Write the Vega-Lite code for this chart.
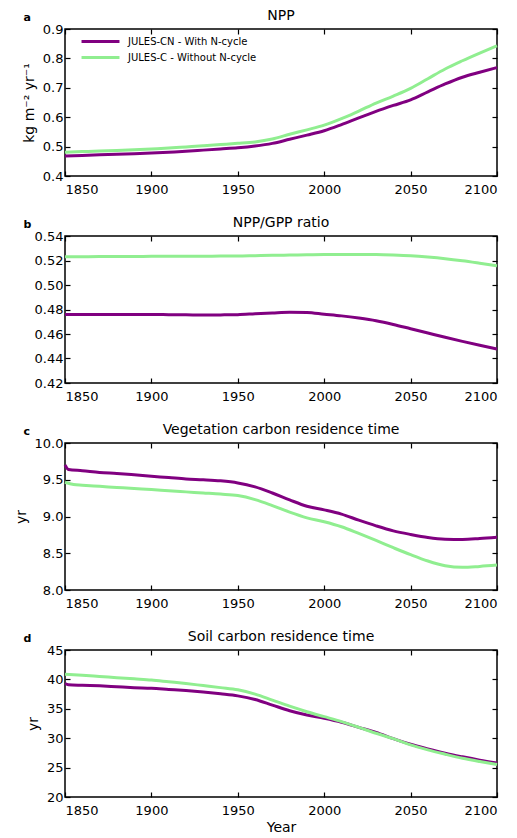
{
  "$schema": "https://vega.github.io/schema/vega-lite/v6.json",
  "padding": {"left": 13, "top": 8, "right": 5, "bottom": 0},
  "spacing": 18,
  "datasets": {
    "npp": [
      {"year":1850,"model":"JULES-CN - With N-cycle","value":0.468},{"year":1860,"model":"JULES-CN - With N-cycle","value":0.470},{"year":1870,"model":"JULES-CN - With N-cycle","value":0.472},{"year":1880,"model":"JULES-CN - With N-cycle","value":0.474},{"year":1890,"model":"JULES-CN - With N-cycle","value":0.476},{"year":1900,"model":"JULES-CN - With N-cycle","value":0.478},{"year":1910,"model":"JULES-CN - With N-cycle","value":0.481},{"year":1920,"model":"JULES-CN - With N-cycle","value":0.484},{"year":1930,"model":"JULES-CN - With N-cycle","value":0.488},{"year":1940,"model":"JULES-CN - With N-cycle","value":0.492},{"year":1950,"model":"JULES-CN - With N-cycle","value":0.496},{"year":1960,"model":"JULES-CN - With N-cycle","value":0.502},{"year":1970,"model":"JULES-CN - With N-cycle","value":0.511},{"year":1980,"model":"JULES-CN - With N-cycle","value":0.525},{"year":1990,"model":"JULES-CN - With N-cycle","value":0.539},{"year":2000,"model":"JULES-CN - With N-cycle","value":0.554},{"year":2010,"model":"JULES-CN - With N-cycle","value":0.575},{"year":2020,"model":"JULES-CN - With N-cycle","value":0.598},{"year":2030,"model":"JULES-CN - With N-cycle","value":0.620},{"year":2040,"model":"JULES-CN - With N-cycle","value":0.640},{"year":2050,"model":"JULES-CN - With N-cycle","value":0.659},{"year":2060,"model":"JULES-CN - With N-cycle","value":0.686},{"year":2070,"model":"JULES-CN - With N-cycle","value":0.713},{"year":2080,"model":"JULES-CN - With N-cycle","value":0.736},{"year":2090,"model":"JULES-CN - With N-cycle","value":0.753},{"year":2100,"model":"JULES-CN - With N-cycle","value":0.769},
      {"year":1850,"model":"JULES-C - Without N-cycle","value":0.481},{"year":1860,"model":"JULES-C - Without N-cycle","value":0.483},{"year":1870,"model":"JULES-C - Without N-cycle","value":0.485},{"year":1880,"model":"JULES-C - Without N-cycle","value":0.487},{"year":1890,"model":"JULES-C - Without N-cycle","value":0.489},{"year":1900,"model":"JULES-C - Without N-cycle","value":0.492},{"year":1910,"model":"JULES-C - Without N-cycle","value":0.495},{"year":1920,"model":"JULES-C - Without N-cycle","value":0.499},{"year":1930,"model":"JULES-C - Without N-cycle","value":0.503},{"year":1940,"model":"JULES-C - Without N-cycle","value":0.507},{"year":1950,"model":"JULES-C - Without N-cycle","value":0.511},{"year":1960,"model":"JULES-C - Without N-cycle","value":0.516},{"year":1970,"model":"JULES-C - Without N-cycle","value":0.526},{"year":1980,"model":"JULES-C - Without N-cycle","value":0.542},{"year":1990,"model":"JULES-C - Without N-cycle","value":0.557},{"year":2000,"model":"JULES-C - Without N-cycle","value":0.573},{"year":2010,"model":"JULES-C - Without N-cycle","value":0.595},{"year":2020,"model":"JULES-C - Without N-cycle","value":0.621},{"year":2030,"model":"JULES-C - Without N-cycle","value":0.648},{"year":2040,"model":"JULES-C - Without N-cycle","value":0.672},{"year":2050,"model":"JULES-C - Without N-cycle","value":0.698},{"year":2060,"model":"JULES-C - Without N-cycle","value":0.731},{"year":2070,"model":"JULES-C - Without N-cycle","value":0.764},{"year":2080,"model":"JULES-C - Without N-cycle","value":0.792},{"year":2090,"model":"JULES-C - Without N-cycle","value":0.818},{"year":2100,"model":"JULES-C - Without N-cycle","value":0.843}
    ],
    "ratio": [
      {"year":1850,"model":"JULES-CN - With N-cycle","value":0.4760},{"year":1860,"model":"JULES-CN - With N-cycle","value":0.4760},{"year":1870,"model":"JULES-CN - With N-cycle","value":0.4760},{"year":1880,"model":"JULES-CN - With N-cycle","value":0.4760},{"year":1890,"model":"JULES-CN - With N-cycle","value":0.4759},{"year":1900,"model":"JULES-CN - With N-cycle","value":0.4759},{"year":1910,"model":"JULES-CN - With N-cycle","value":0.4758},{"year":1920,"model":"JULES-CN - With N-cycle","value":0.4757},{"year":1930,"model":"JULES-CN - With N-cycle","value":0.4755},{"year":1940,"model":"JULES-CN - With N-cycle","value":0.4756},{"year":1950,"model":"JULES-CN - With N-cycle","value":0.4758},{"year":1960,"model":"JULES-CN - With N-cycle","value":0.4765},{"year":1970,"model":"JULES-CN - With N-cycle","value":0.4772},{"year":1980,"model":"JULES-CN - With N-cycle","value":0.4778},{"year":1990,"model":"JULES-CN - With N-cycle","value":0.4776},{"year":2000,"model":"JULES-CN - With N-cycle","value":0.4762},{"year":2010,"model":"JULES-CN - With N-cycle","value":0.4748},{"year":2020,"model":"JULES-CN - With N-cycle","value":0.4730},{"year":2030,"model":"JULES-CN - With N-cycle","value":0.4708},{"year":2040,"model":"JULES-CN - With N-cycle","value":0.4678},{"year":2050,"model":"JULES-CN - With N-cycle","value":0.4643},{"year":2060,"model":"JULES-CN - With N-cycle","value":0.4608},{"year":2070,"model":"JULES-CN - With N-cycle","value":0.4573},{"year":2080,"model":"JULES-CN - With N-cycle","value":0.4540},{"year":2090,"model":"JULES-CN - With N-cycle","value":0.4508},{"year":2100,"model":"JULES-CN - With N-cycle","value":0.4477},
      {"year":1850,"model":"JULES-C - Without N-cycle","value":0.5230},{"year":1860,"model":"JULES-C - Without N-cycle","value":0.5231},{"year":1870,"model":"JULES-C - Without N-cycle","value":0.5232},{"year":1880,"model":"JULES-C - Without N-cycle","value":0.5233},{"year":1890,"model":"JULES-C - Without N-cycle","value":0.5233},{"year":1900,"model":"JULES-C - Without N-cycle","value":0.5234},{"year":1910,"model":"JULES-C - Without N-cycle","value":0.5234},{"year":1920,"model":"JULES-C - Without N-cycle","value":0.5235},{"year":1930,"model":"JULES-C - Without N-cycle","value":0.5235},{"year":1940,"model":"JULES-C - Without N-cycle","value":0.5236},{"year":1950,"model":"JULES-C - Without N-cycle","value":0.5236},{"year":1960,"model":"JULES-C - Without N-cycle","value":0.5239},{"year":1970,"model":"JULES-C - Without N-cycle","value":0.5242},{"year":1980,"model":"JULES-C - Without N-cycle","value":0.5244},{"year":1990,"model":"JULES-C - Without N-cycle","value":0.5246},{"year":2000,"model":"JULES-C - Without N-cycle","value":0.5248},{"year":2010,"model":"JULES-C - Without N-cycle","value":0.5249},{"year":2020,"model":"JULES-C - Without N-cycle","value":0.5249},{"year":2030,"model":"JULES-C - Without N-cycle","value":0.5248},{"year":2040,"model":"JULES-C - Without N-cycle","value":0.5244},{"year":2050,"model":"JULES-C - Without N-cycle","value":0.5238},{"year":2060,"model":"JULES-C - Without N-cycle","value":0.5228},{"year":2070,"model":"JULES-C - Without N-cycle","value":0.5215},{"year":2080,"model":"JULES-C - Without N-cycle","value":0.5198},{"year":2090,"model":"JULES-C - Without N-cycle","value":0.5178},{"year":2100,"model":"JULES-C - Without N-cycle","value":0.5157}
    ],
    "veg": [
      {"year":1850,"model":"JULES-CN - With N-cycle","value":9.70},{"year":1852,"model":"JULES-CN - With N-cycle","value":9.64},{"year":1860,"model":"JULES-CN - With N-cycle","value":9.624},{"year":1870,"model":"JULES-CN - With N-cycle","value":9.60},{"year":1880,"model":"JULES-CN - With N-cycle","value":9.585},{"year":1890,"model":"JULES-CN - With N-cycle","value":9.567},{"year":1900,"model":"JULES-CN - With N-cycle","value":9.548},{"year":1910,"model":"JULES-CN - With N-cycle","value":9.53},{"year":1920,"model":"JULES-CN - With N-cycle","value":9.511},{"year":1930,"model":"JULES-CN - With N-cycle","value":9.50},{"year":1940,"model":"JULES-CN - With N-cycle","value":9.485},{"year":1950,"model":"JULES-CN - With N-cycle","value":9.457},{"year":1960,"model":"JULES-CN - With N-cycle","value":9.403},{"year":1970,"model":"JULES-CN - With N-cycle","value":9.32},{"year":1980,"model":"JULES-CN - With N-cycle","value":9.226},{"year":1990,"model":"JULES-CN - With N-cycle","value":9.14},{"year":2000,"model":"JULES-CN - With N-cycle","value":9.09},{"year":2010,"model":"JULES-CN - With N-cycle","value":9.032},{"year":2020,"model":"JULES-CN - With N-cycle","value":8.95},{"year":2030,"model":"JULES-CN - With N-cycle","value":8.873},{"year":2040,"model":"JULES-CN - With N-cycle","value":8.805},{"year":2050,"model":"JULES-CN - With N-cycle","value":8.756},{"year":2060,"model":"JULES-CN - With N-cycle","value":8.715},{"year":2070,"model":"JULES-CN - With N-cycle","value":8.692},{"year":2080,"model":"JULES-CN - With N-cycle","value":8.688},{"year":2090,"model":"JULES-CN - With N-cycle","value":8.701},{"year":2100,"model":"JULES-CN - With N-cycle","value":8.719},
      {"year":1850,"model":"JULES-C - Without N-cycle","value":9.466},{"year":1855,"model":"JULES-C - Without N-cycle","value":9.434},{"year":1860,"model":"JULES-C - Without N-cycle","value":9.425},{"year":1870,"model":"JULES-C - Without N-cycle","value":9.41},{"year":1880,"model":"JULES-C - Without N-cycle","value":9.395},{"year":1890,"model":"JULES-C - Without N-cycle","value":9.38},{"year":1900,"model":"JULES-C - Without N-cycle","value":9.366},{"year":1910,"model":"JULES-C - Without N-cycle","value":9.35},{"year":1920,"model":"JULES-C - Without N-cycle","value":9.335},{"year":1930,"model":"JULES-C - Without N-cycle","value":9.32},{"year":1940,"model":"JULES-C - Without N-cycle","value":9.305},{"year":1950,"model":"JULES-C - Without N-cycle","value":9.285},{"year":1960,"model":"JULES-C - Without N-cycle","value":9.23},{"year":1970,"model":"JULES-C - Without N-cycle","value":9.149},{"year":1980,"model":"JULES-C - Without N-cycle","value":9.059},{"year":1990,"model":"JULES-C - Without N-cycle","value":8.982},{"year":2000,"model":"JULES-C - Without N-cycle","value":8.928},{"year":2010,"model":"JULES-C - Without N-cycle","value":8.86},{"year":2020,"model":"JULES-C - Without N-cycle","value":8.769},{"year":2030,"model":"JULES-C - Without N-cycle","value":8.674},{"year":2040,"model":"JULES-C - Without N-cycle","value":8.575},{"year":2050,"model":"JULES-C - Without N-cycle","value":8.48},{"year":2060,"model":"JULES-C - Without N-cycle","value":8.394},{"year":2070,"model":"JULES-C - Without N-cycle","value":8.33},{"year":2080,"model":"JULES-C - Without N-cycle","value":8.308},{"year":2090,"model":"JULES-C - Without N-cycle","value":8.321},{"year":2100,"model":"JULES-C - Without N-cycle","value":8.339}
    ],
    "soil": [
      {"year":1850,"model":"JULES-CN - With N-cycle","value":39.3},{"year":1852,"model":"JULES-CN - With N-cycle","value":39.1},{"year":1860,"model":"JULES-CN - With N-cycle","value":39.0},{"year":1870,"model":"JULES-CN - With N-cycle","value":38.9},{"year":1880,"model":"JULES-CN - With N-cycle","value":38.75},{"year":1890,"model":"JULES-CN - With N-cycle","value":38.6},{"year":1900,"model":"JULES-CN - With N-cycle","value":38.5},{"year":1910,"model":"JULES-CN - With N-cycle","value":38.3},{"year":1920,"model":"JULES-CN - With N-cycle","value":38.1},{"year":1930,"model":"JULES-CN - With N-cycle","value":37.85},{"year":1940,"model":"JULES-CN - With N-cycle","value":37.55},{"year":1950,"model":"JULES-CN - With N-cycle","value":37.2},{"year":1960,"model":"JULES-CN - With N-cycle","value":36.59},{"year":1970,"model":"JULES-CN - With N-cycle","value":35.63},{"year":1980,"model":"JULES-CN - With N-cycle","value":34.67},{"year":1990,"model":"JULES-CN - With N-cycle","value":33.94},{"year":2000,"model":"JULES-CN - With N-cycle","value":33.37},{"year":2010,"model":"JULES-CN - With N-cycle","value":32.70},{"year":2020,"model":"JULES-CN - With N-cycle","value":31.85},{"year":2030,"model":"JULES-CN - With N-cycle","value":31.0},{"year":2040,"model":"JULES-CN - With N-cycle","value":29.93},{"year":2050,"model":"JULES-CN - With N-cycle","value":28.97},{"year":2060,"model":"JULES-CN - With N-cycle","value":28.18},{"year":2070,"model":"JULES-CN - With N-cycle","value":27.45},{"year":2080,"model":"JULES-CN - With N-cycle","value":26.83},{"year":2090,"model":"JULES-CN - With N-cycle","value":26.26},{"year":2100,"model":"JULES-CN - With N-cycle","value":25.76},
      {"year":1850,"model":"JULES-C - Without N-cycle","value":40.88},{"year":1860,"model":"JULES-C - Without N-cycle","value":40.7},{"year":1870,"model":"JULES-C - Without N-cycle","value":40.5},{"year":1880,"model":"JULES-C - Without N-cycle","value":40.3},{"year":1890,"model":"JULES-C - Without N-cycle","value":40.1},{"year":1900,"model":"JULES-C - Without N-cycle","value":39.9},{"year":1910,"model":"JULES-C - Without N-cycle","value":39.6},{"year":1920,"model":"JULES-C - Without N-cycle","value":39.3},{"year":1930,"model":"JULES-C - Without N-cycle","value":38.95},{"year":1940,"model":"JULES-C - Without N-cycle","value":38.6},{"year":1950,"model":"JULES-C - Without N-cycle","value":38.23},{"year":1960,"model":"JULES-C - Without N-cycle","value":37.49},{"year":1970,"model":"JULES-C - Without N-cycle","value":36.48},{"year":1980,"model":"JULES-C - Without N-cycle","value":35.46},{"year":1990,"model":"JULES-C - Without N-cycle","value":34.5},{"year":2000,"model":"JULES-C - Without N-cycle","value":33.66},{"year":2010,"model":"JULES-C - Without N-cycle","value":32.81},{"year":2020,"model":"JULES-C - Without N-cycle","value":31.85},{"year":2030,"model":"JULES-C - Without N-cycle","value":30.84},{"year":2040,"model":"JULES-C - Without N-cycle","value":29.93},{"year":2050,"model":"JULES-C - Without N-cycle","value":28.86},{"year":2060,"model":"JULES-C - Without N-cycle","value":28.01},{"year":2070,"model":"JULES-C - Without N-cycle","value":27.28},{"year":2080,"model":"JULES-C - Without N-cycle","value":26.6},{"year":2090,"model":"JULES-C - Without N-cycle","value":26.04},{"year":2100,"model":"JULES-C - Without N-cycle","value":25.53}
    ]
  },
  "resolve": {"scale": {"color": "independent"}},
  "vconcat": [
    {
      "width": 432, "height": 147,
      "data": {"name": "npp"},
      "title": {"text": "NPP"},
      "layer": [
        {
          "mark": {"type": "line", "strokeWidth": 3, "interpolate": "monotone"},
          "encoding": {
            "x": {"field": "year", "type": "quantitative", "scale": {"domain": [1850, 2100], "nice": false},
                  "axis": {"orient": "bottom", "values": [1850,1900,1950,2000,2050,2100], "format": "d", "title": null}},
            "y": {"field": "value", "type": "quantitative", "scale": {"domain": [0.4, 0.9], "nice": false, "zero": false},
                  "axis": {"orient": "left", "values": [0.4,0.5,0.6,0.7,0.8,0.9], "format": ".1f", "title": "kg m⁻² yr⁻¹"}},
            "color": {"field": "model", "type": "nominal",
                      "scale": {"domain": ["JULES-CN - With N-cycle", "JULES-C - Without N-cycle"], "range": ["#800080", "#90ee90"]},
                      "legend": {"orient": "none", "legendX": 29, "legendY": 6, "title": null, "symbolType": "M-4,0H4", "symbolStrokeWidth": 3, "symbolSize": 90, "labelFontSize": 10, "labelColor": "black", "padding": 0, "rowPadding": 3, "labelOffset": 21}}
          }
        },
        {
          "mark": {"type": "line", "opacity": 0},
          "encoding": {
            "x": {"field": "year", "type": "quantitative", "axis": {"orient": "top", "labels": false, "values": [1850,1900,1950,2000,2050,2100], "title": "a", "titleX": -42, "titleY": -9, "titleAlign": "left", "titleAngle": 0, "titleBaseline": "alphabetic", "titleFontWeight": "bold", "titleFontSize": 11}},
            "y": {"field": "value", "type": "quantitative", "axis": {"orient": "right", "labels": false, "values": [0.4,0.5,0.6,0.7,0.8,0.9], "title": null}}
          }
        }
      ],
      "resolve": {"axis": {"x": "independent", "y": "independent"}}
    },
    {
      "width": 432, "height": 147,
      "data": {"name": "ratio"},
      "title": {"text": "NPP/GPP ratio"},
      "layer": [
        {
          "mark": {"type": "line", "strokeWidth": 3, "interpolate": "monotone"},
          "encoding": {
            "x": {"field": "year", "type": "quantitative", "scale": {"domain": [1850, 2100], "nice": false},
                  "axis": {"orient": "bottom", "values": [1850,1900,1950,2000,2050,2100], "format": "d", "title": null}},
            "y": {"field": "value", "type": "quantitative", "scale": {"domain": [0.42, 0.54], "nice": false, "zero": false},
                  "axis": {"orient": "left", "values": [0.42,0.44,0.46,0.48,0.50,0.52,0.54], "format": ".2f", "title": null}},
            "color": {"field": "model", "type": "nominal",
                      "scale": {"domain": ["JULES-CN - With N-cycle", "JULES-C - Without N-cycle"], "range": ["#800080", "#90ee90"]},
                      "legend": null}
          }
        },
        {
          "mark": {"type": "line", "opacity": 0},
          "encoding": {
            "x": {"field": "year", "type": "quantitative", "axis": {"orient": "top", "labels": false, "values": [1850,1900,1950,2000,2050,2100], "title": "b", "titleX": -42, "titleY": -9, "titleAlign": "left", "titleAngle": 0, "titleBaseline": "alphabetic", "titleFontWeight": "bold", "titleFontSize": 11}},
            "y": {"field": "value", "type": "quantitative", "axis": {"orient": "right", "labels": false, "values": [0.42,0.44,0.46,0.48,0.50,0.52,0.54], "title": null}}
          }
        }
      ],
      "resolve": {"axis": {"x": "independent", "y": "independent"}}
    },
    {
      "width": 432, "height": 147,
      "data": {"name": "veg"},
      "title": {"text": "Vegetation carbon residence time"},
      "layer": [
        {
          "mark": {"type": "line", "strokeWidth": 3, "interpolate": "monotone"},
          "encoding": {
            "x": {"field": "year", "type": "quantitative", "scale": {"domain": [1850, 2100], "nice": false},
                  "axis": {"orient": "bottom", "values": [1850,1900,1950,2000,2050,2100], "format": "d", "title": null}},
            "y": {"field": "value", "type": "quantitative", "scale": {"domain": [8.0, 10.0], "nice": false, "zero": false},
                  "axis": {"orient": "left", "values": [8.0,8.5,9.0,9.5,10.0], "format": ".1f", "title": "yr"}},
            "color": {"field": "model", "type": "nominal",
                      "scale": {"domain": ["JULES-CN - With N-cycle", "JULES-C - Without N-cycle"], "range": ["#800080", "#90ee90"]},
                      "legend": null}
          }
        },
        {
          "mark": {"type": "line", "opacity": 0},
          "encoding": {
            "x": {"field": "year", "type": "quantitative", "axis": {"orient": "top", "labels": false, "values": [1850,1900,1950,2000,2050,2100], "title": "c", "titleX": -42, "titleY": -9, "titleAlign": "left", "titleAngle": 0, "titleBaseline": "alphabetic", "titleFontWeight": "bold", "titleFontSize": 11}},
            "y": {"field": "value", "type": "quantitative", "axis": {"orient": "right", "labels": false, "values": [8.0,8.5,9.0,9.5,10.0], "title": null}}
          }
        }
      ],
      "resolve": {"axis": {"x": "independent", "y": "independent"}}
    },
    {
      "width": 432, "height": 147,
      "data": {"name": "soil"},
      "title": {"text": "Soil carbon residence time"},
      "layer": [
        {
          "mark": {"type": "line", "strokeWidth": 3, "interpolate": "monotone"},
          "encoding": {
            "x": {"field": "year", "type": "quantitative", "scale": {"domain": [1850, 2100], "nice": false},
                  "axis": {"orient": "bottom", "values": [1850,1900,1950,2000,2050,2100], "format": "d", "title": "Year", "titlePadding": 3}},
            "y": {"field": "value", "type": "quantitative", "scale": {"domain": [20, 45], "nice": false, "zero": false},
                  "axis": {"orient": "left", "values": [20,25,30,35,40,45], "format": "d", "title": "yr"}},
            "color": {"field": "model", "type": "nominal",
                      "scale": {"domain": ["JULES-CN - With N-cycle", "JULES-C - Without N-cycle"], "range": ["#800080", "#90ee90"]},
                      "legend": null}
          }
        },
        {
          "mark": {"type": "line", "opacity": 0},
          "encoding": {
            "x": {"field": "year", "type": "quantitative", "axis": {"orient": "top", "labels": false, "values": [1850,1900,1950,2000,2050,2100], "title": "d", "titleX": -42, "titleY": -9, "titleAlign": "left", "titleAngle": 0, "titleBaseline": "alphabetic", "titleFontWeight": "bold", "titleFontSize": 11}},
            "y": {"field": "value", "type": "quantitative", "axis": {"orient": "right", "labels": false, "values": [20,25,30,35,40,45], "title": null}}
          }
        }
      ],
      "resolve": {"axis": {"x": "independent", "y": "independent"}}
    }
  ],
  "config": {
    "font": "DejaVu Sans",
    "view": {"stroke": "black", "strokeWidth": 1.5},
    "axis": {"grid": false, "domain": false, "tickColor": "black", "tickSize": -5, "tickWidth": 1.2,
             "labelFontSize": 13, "labelColor": "black", "labelFont": "DejaVu Sans", "labelOverlap": false,
             "titleFont": "DejaVu Sans", "titleFontSize": 14, "titleFontWeight": "normal", "titleColor": "black", "titlePadding": 6},
    "axisX": {"labelPadding": 12},
    "axisY": {"labelPadding": 7},
    "title": {"font": "DejaVu Sans", "fontSize": 14, "fontWeight": "normal", "color": "black", "frame": "group", "offset": -12, "baseline": "alphabetic"}
  }
}
